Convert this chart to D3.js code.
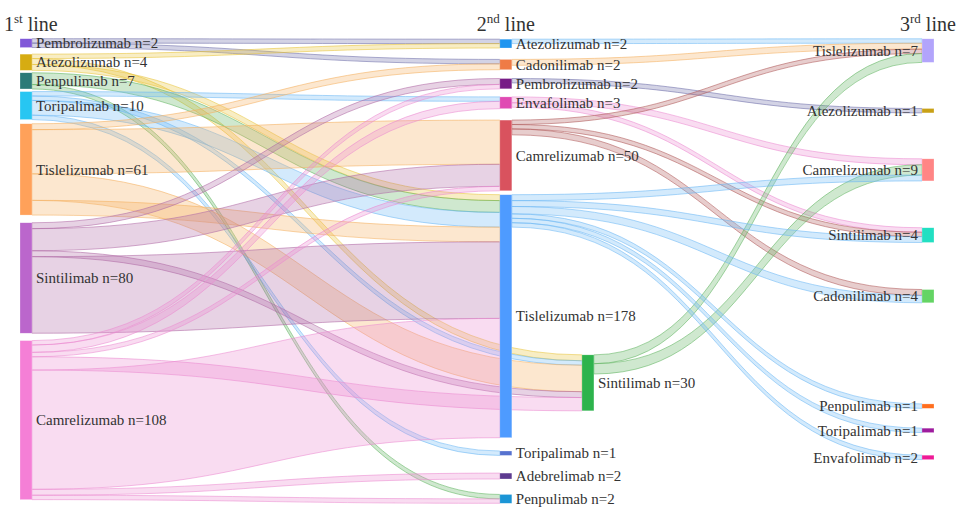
<!DOCTYPE html>
<html>
<head>
<meta charset="utf-8">
<script src="https://cdn.jsdelivr.net/npm/d3@7"></script>
<style>
    body { margin: 0; background: #fff; }
    svg { display: block; }
</style>
</head>
<body>
<div id="sankey"></div>
<script>
// Drugs used at each treatment line, with the patient counts shown in the labels
const firstLine = ["Pembrolizumab", "Atezolizumab", "Penpulimab", "Toripalimab", "Tislelizumab", "Sintilimab", "Camrelizumab"];
const firstLineN = [2, 4, 7, 10, 61, 80, 108];
const secondLine = ["Atezolizumab", "Cadonilimab", "Pembrolizumab", "Envafolimab", "Camrelizumab", "Sintilimab", "Tislelizumab", "Toripalimab", "Adebrelimab", "Penpulimab"];
const secondLineN = [2, 2, 2, 3, 50, 30, 178, 1, 2, 2];
const thirdLine = ["Tislelizumab", "Atezolizumab", "Camrelizumab", "Sintilimab", "Cadonilimab", "Penpulimab", "Toripalimab", "Envafolimab"];
const thirdLineN = [7, 1, 9, 4, 4, 1, 1, 2];

const flows12 = [
    ["Pembrolizumab", "Atezolizumab", 3],
    ["Pembrolizumab", "Cadonilimab", 3],
    ["Atezolizumab", "Atezolizumab", 3],
    ["Atezolizumab", "Sintilimab", 4],
    ["Atezolizumab", "Tislelizumab", 4],
    ["Penpulimab", "Tislelizumab", 8],
    ["Penpulimab", "Penpulimab", 3],
    ["Toripalimab", "Envafolimab", 3],
    ["Toripalimab", "Sintilimab", 3],
    ["Toripalimab", "Tislelizumab", 10],
    ["Toripalimab", "Toripalimab", 3],
    ["Tislelizumab", "Cadonilimab", 4],
    ["Tislelizumab", "Camrelizumab", 30],
    ["Tislelizumab", "Sintilimab", 18],
    ["Tislelizumab", "Tislelizumab", 10],
    ["Sintilimab", "Pembrolizumab", 4],
    ["Sintilimab", "Camrelizumab", 15],
    ["Sintilimab", "Sintilimab", 4],
    ["Sintilimab", "Tislelizumab", 52],
    ["Camrelizumab", "Pembrolizumab", 3],
    ["Camrelizumab", "Envafolimab", 5],
    ["Camrelizumab", "Camrelizumab", 3],
    ["Camrelizumab", "Sintilimab", 9],
    ["Camrelizumab", "Tislelizumab", 81],
    ["Camrelizumab", "Adebrelimab", 4],
    ["Camrelizumab", "Penpulimab", 3]
];

// Flows 2nd -> 3rd line
const flows23 = [
    ["Atezolizumab", "Tislelizumab", 3],
    ["Cadonilimab", "Tislelizumab", 4],
    ["Pembrolizumab", "Atezolizumab", 3],
    ["Envafolimab", "Camrelizumab", 4],
    ["Envafolimab", "Sintilimab", 3],
    ["Camrelizumab", "Tislelizumab", 3],
    ["Camrelizumab", "Sintilimab", 3],
    ["Camrelizumab", "Cadonilimab", 4],
    ["Sintilimab", "Tislelizumab", 6],
    ["Sintilimab", "Camrelizumab", 7],
    ["Tislelizumab", "Camrelizumab", 4],
    ["Tislelizumab", "Sintilimab", 4],
    ["Tislelizumab", "Cadonilimab", 5],
    ["Tislelizumab", "Penpulimab", 3],
    ["Tislelizumab", "Toripalimab", 3],
    ["Tislelizumab", "Envafolimab", 3]
];

// Node placement as fractions of the plot box (column x, node centre y)
const firstLineY = [0.011, 0.052, 0.092, 0.145, 0.282, 0.515, 0.82];
const secondLineX = [0.532, 0.532, 0.532, 0.532, 0.532, 0.623, 0.532, 0.532, 0.532, 0.532];
const secondLineY = [0.012, 0.057, 0.098, 0.139, 0.252, 0.740, 0.597, 0.891, 0.940, 0.989];
const thirdLineY = [0.027, 0.156, 0.283, 0.423, 0.554, 0.790, 0.842, 0.900];

// Colours
const firstLineColors = ["#8058d8", "#d6ac12", "#2b7a78", "#27c6f2", "#ffa15a", "#bb66cc", "#f57fd6"];
const secondLineColors = ["#1f95f0", "#ef7b46", "#771c86", "#e04ab3", "#d9525e", "#2db34c", "#4e9bff", "#5672cf", "#5d3b90", "#1b95d6"];
const thirdLineColors = ["#b2a4fb", "#c9a116", "#ff8585", "#22dfc2", "#64d464", "#ff6e1e", "#9e1c9e", "#ee1a96"];
const firstLineLinkColors = ["#6e6ea8", "#e8c43a", "#5fb35f", "#6cb8f5", "#f5b060", "#b06aa6", "#ec8ad0"];
const secondLineLinkColors = ["#6cb8f5", "#f5b060", "#6e6ea8", "#ec8ad0", "#b05a5a", "#5fb35f", "#6cb8f5", "#6cb8f5", "#ec8ad0", "#5fb35f"];

const width = 960, height = 511;
const nodeWidth = 12, nodePad = 6;

const svg = d3.select("#sankey")
    .append("svg")
    .attr("width", width)
    .attr("height", height);

const x = d3.scaleLinear().domain([0, 1]).range([20, 922]);
const y = d3.scaleLinear().domain([0, 1]).range([38, 504]);

// Build nodes
const nodes = [];
firstLine.forEach((name, i) => nodes.push({
    id: "1" + name, label: name + " n=" + firstLineN[i], col: 1,
    fx: 0, fy: firstLineY[i], color: firstLineColors[i], linkColor: firstLineLinkColors[i]
}));
secondLine.forEach((name, i) => nodes.push({
    id: "2" + name, label: name + " n=" + secondLineN[i], col: 2,
    fx: secondLineX[i], fy: secondLineY[i], color: secondLineColors[i], linkColor: secondLineLinkColors[i]
}));
thirdLine.forEach((name, i) => nodes.push({
    id: "3" + name, label: name + " n=" + thirdLineN[i], col: 3,
    fx: 1, fy: thirdLineY[i], color: thirdLineColors[i], linkColor: null
}));
nodes.forEach((n, i) => { n.index = i; n.sourceLinks = []; n.targetLinks = []; });
const nodeById = new Map(nodes.map(n => [n.id, n]));

// Build links
const links = [
    ...flows12.map(([s, t, v]) => ({source: nodeById.get("1" + s), target: nodeById.get("2" + t), value: v})),
    ...flows23.map(([s, t, v]) => ({source: nodeById.get("2" + s), target: nodeById.get("3" + t), value: v}))
];
links.forEach(l => { l.source.sourceLinks.push(l); l.target.targetLinks.push(l); });
nodes.forEach(n => {
    n.value = Math.max(d3.sum(n.sourceLinks, l => l.value), d3.sum(n.targetLinks, l => l.value));
});

// Value -> pixel scale: first column fills the plot height less the padding
const maxTotal = d3.sum(nodes.filter(n => n.col === 1), n => n.value);
const v = d3.scaleLinear()
    .domain([0, maxTotal])
    .range([0, y.range()[1] - y.range()[0] - nodePad * (firstLine.length - 1)]);

nodes.forEach(n => {
    n.x0 = x(n.fx);
    n.x1 = n.x0 + nodeWidth;
    const h = v(n.value);
    n.y0 = y(n.fy) - h / 2;
    n.y1 = n.y0 + h;
});

// Stack the links within each node
links.forEach(l => l.width = v(l.value));
nodes.forEach(n => {
    n.sourceLinks.sort((a, b) => a.target.index - b.target.index);
    n.targetLinks.sort((a, b) => a.source.index - b.source.index);
    let sy = n.y0;
    n.sourceLinks.forEach(l => { l.sy0 = sy; sy += l.width; l.sy1 = sy; });
    let ty = n.y0;
    n.targetLinks.forEach(l => { l.ty0 = ty; ty += l.width; l.ty1 = ty; });
});

function bandPath(l) {
    const x0 = l.source.x1, x1 = l.target.x0;
    const xm = d3.interpolateNumber(x0, x1)(0.5);
    const p = d3.path();
    p.moveTo(x0, l.sy0);
    p.bezierCurveTo(xm, l.sy0, xm, l.ty0, x1, l.ty0);
    p.lineTo(x1, l.ty1);
    p.bezierCurveTo(xm, l.ty1, xm, l.sy1, x0, l.sy1);
    p.closePath();
    return p.toString();
}

// Links
svg.append("g")
    .selectAll("path")
    .data(links)
    .join("path")
    .attr("d", bandPath)
    .attr("fill", d => d.source.linkColor)
    .attr("fill-opacity", 0.3)
    .attr("stroke", d => d.source.linkColor)
    .attr("stroke-opacity", 0.7)
    .attr("stroke-width", 0.8);

// Nodes
svg.append("g")
    .selectAll("rect")
    .data(nodes)
    .join("rect")
    .attr("x", d => d.x0)
    .attr("y", d => d.y0)
    .attr("width", nodeWidth)
    .attr("height", d => Math.max(1, d.y1 - d.y0))
    .attr("fill", d => d.color)
    .attr("stroke", "#ffffff")
    .attr("stroke-opacity", 0.5)
    .attr("stroke-width", 0.5);

// Node labels
svg.append("g")
    .selectAll("text")
    .data(nodes)
    .join("text")
    .attr("x", d => d.col === 3 ? d.x0 - 4 : d.x1 + 4)
    .attr("y", d => (d.y0 + d.y1) / 2)
    .attr("dy", "0.35em")
    .attr("text-anchor", d => d.col === 3 ? "end" : "start")
    .attr("font-family", "'Liberation Serif', 'Times New Roman', serif")
    .style("font-size", "15px")
    .attr("fill", "#333")
    .text(d => d.label);

// Column headers
const headers = [
    {num: "1", sup: "st", x: x(0) - 16},
    {num: "2", sup: "nd", x: x(0.532) - 23},
    {num: "3", sup: "rd", x: x(1) - 22}
];
const header = svg.append("g")
    .selectAll("text")
    .data(headers)
    .join("text")
    .attr("x", d => d.x)
    .attr("y", 31)
    .attr("font-family", "'Liberation Serif', 'Times New Roman', serif")
    .style("font-size", "20px")
    .attr("fill", "#333");
header.append("tspan").text(d => d.num);
header.append("tspan").attr("dy", -8).style("font-size", "13px").text(d => d.sup);
header.append("tspan").attr("dy", 8).text(" line");
</script>
</body>
</html>
